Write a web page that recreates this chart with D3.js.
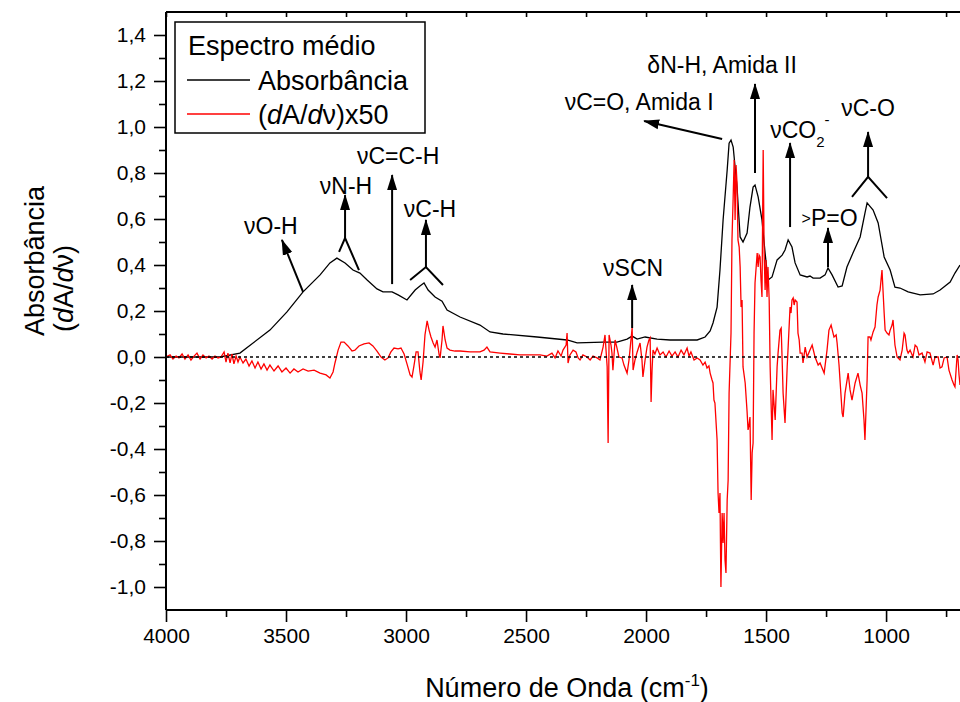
<!DOCTYPE html>
<html>
<head>
<meta charset="utf-8">
<script src="https://cdn.jsdelivr.net/npm/d3@7"></script>
<style>
  body { margin: 0; background: #fff; }
  svg text { font-family: "Liberation Sans", Arial, sans-serif; fill: #000; }
</style>
</head>
<body>
<div id="chart"></div>
<script>
// espectro médio: [número de onda, absorbância]
const absorbance = [
  [4000, 0.0], [3775, 0.0], [3692, 0.017], [3567, 0.117], [3496, 0.196], [3429, 0.283],
  [3358, 0.357], [3317, 0.409], [3288, 0.430], [3254, 0.409], [3221, 0.378], [3192, 0.365],
  [3162, 0.335], [3121, 0.296], [3096, 0.283], [3058, 0.283], [3033, 0.270], [2996, 0.248],
  [2962, 0.291], [2942, 0.309], [2925, 0.322], [2908, 0.291], [2879, 0.261], [2850, 0.243],
  [2829, 0.204], [2775, 0.174], [2692, 0.139], [2650, 0.109], [2596, 0.100], [2454, 0.087],
  [2329, 0.074], [2287, 0.061], [2179, 0.065], [2121, 0.065], [2079, 0.078], [2058, 0.091],
  [2037, 0.078], [2004, 0.087], [1954, 0.078], [1900, 0.074], [1787, 0.074], [1754, 0.087],
  [1733, 0.113], [1721, 0.148], [1704, 0.217], [1692, 0.378], [1679, 0.596], [1662, 0.813],
  [1654, 0.930], [1646, 0.943], [1637, 0.913], [1621, 0.739], [1608, 0.522], [1596, 0.500],
  [1579, 0.539], [1567, 0.652], [1554, 0.739], [1546, 0.748], [1533, 0.696], [1517, 0.596],
  [1504, 0.452], [1492, 0.335], [1475, 0.348], [1454, 0.422], [1433, 0.443], [1421, 0.465],
  [1408, 0.509], [1392, 0.478], [1379, 0.409], [1358, 0.357], [1329, 0.348], [1317, 0.352],
  [1304, 0.343], [1275, 0.343], [1254, 0.357], [1242, 0.387], [1225, 0.357], [1200, 0.304],
  [1183, 0.309], [1163, 0.391], [1138, 0.452], [1108, 0.522], [1088, 0.626], [1079, 0.670],
  [1054, 0.639], [1033, 0.583], [1008, 0.435], [983, 0.378], [963, 0.304], [942, 0.300],
  [908, 0.283], [858, 0.270], [804, 0.274], [775, 0.291], [733, 0.326], [713, 0.365], [692, 0.400]
];

// derivada (dA/dv) x 50
const derivative = [
  [4000, 0], [3983, 0.009], [3971, -0.009], [3958, 0.004], [3946, -0.004], [3933, 0.013],
  [3921, -0.009], [3908, 0.009], [3896, -0.013], [3883, 0.004], [3871, 0.017], [3858, -0.009],
  [3846, 0.009], [3833, -0.004], [3821, 0.004], [3808, -0.009], [3796, 0.004], [3783, -0.004],
  [3771, 0], [3758, 0.022], [3750, -0.022], [3742, 0.017], [3733, -0.026], [3725, 0.013],
  [3717, -0.030], [3708, 0.004], [3700, -0.022], [3692, 0], [3679, -0.026], [3667, -0.009],
  [3654, -0.039], [3642, -0.017], [3629, -0.048], [3617, -0.022], [3604, -0.052], [3592, -0.030],
  [3579, -0.057], [3567, -0.035], [3550, -0.061], [3533, -0.039], [3517, -0.065], [3500, -0.048],
  [3483, -0.070], [3467, -0.052], [3450, -0.065], [3429, -0.052], [3408, -0.061], [3383, -0.057],
  [3358, -0.070], [3333, -0.078], [3317, -0.091], [3304, -0.065], [3296, -0.026], [3283, 0.030],
  [3271, 0.065], [3258, 0.065], [3242, 0.048], [3225, 0.026], [3213, 0.030], [3196, 0.048],
  [3175, 0.057], [3154, 0.061], [3138, 0.048], [3121, 0.026], [3104, 0], [3088, -0.013],
  [3075, -0.004], [3063, 0.022], [3050, 0.039], [3033, 0.035], [3021, 0.039], [3008, 0.013],
  [2996, -0.030], [2983, -0.078], [2975, -0.087], [2967, -0.039], [2958, 0.022], [2950, 0.022],
  [2942, -0.065], [2937, -0.100], [2929, -0.022], [2921, 0.096], [2912, 0.157], [2904, 0.117],
  [2896, 0.087], [2887, 0.061], [2879, 0.043], [2871, 0.074], [2862, 0.009], [2858, -0.004],
  [2850, 0.074], [2846, 0.135], [2837, 0.074], [2829, 0.039], [2817, 0.030], [2796, 0.026],
  [2775, 0.026], [2733, 0.022], [2692, 0.022], [2675, 0.030], [2663, 0.043], [2650, 0.022],
  [2608, 0.017], [2567, 0.013], [2525, 0.009], [2483, 0.009], [2442, 0.009], [2413, 0.004],
  [2392, 0.017], [2379, -0.004], [2367, 0.026], [2354, 0.004], [2346, 0.030], [2333, 0.052],
  [2329, 0.104], [2325, -0.026], [2317, 0.009], [2304, 0.030], [2292, 0.022], [2283, -0.004],
  [2275, -0.013], [2263, 0.009], [2246, 0], [2233, -0.013], [2221, 0.004], [2204, -0.004],
  [2192, -0.013], [2179, 0.043], [2171, 0.096], [2162, -0.043], [2158, -0.374], [2154, 0.096],
  [2146, 0.052], [2142, 0.017], [2138, -0.057], [2129, 0.074], [2121, 0.039], [2113, 0],
  [2100, -0.004], [2092, -0.035], [2079, -0.070], [2071, -0.013], [2067, 0.030], [2058, 0.126],
  [2054, -0.057], [2046, -0.013], [2037, 0.022], [2025, 0.061], [2017, -0.013], [2013, -0.087],
  [2004, -0.013], [1996, 0.043], [1988, 0.074], [1983, 0.083], [1979, -0.196], [1975, -0.057],
  [1971, 0.030], [1963, 0.013], [1954, 0.039], [1942, 0.009], [1929, 0.022], [1917, 0],
  [1904, 0.026], [1892, 0.004], [1879, 0.022], [1867, 0], [1854, 0.030], [1842, 0.009],
  [1829, 0.039], [1821, 0.004], [1813, 0.022], [1800, -0.013], [1787, -0.004], [1775, -0.013],
  [1763, -0.035], [1754, -0.022], [1746, -0.048], [1738, -0.039], [1733, -0.070], [1725, -0.100],
  [1721, -0.113], [1717, -0.187], [1713, -0.200], [1704, -0.361], [1700, -0.591], [1696, -0.678],
  [1692, -0.591], [1690, -0.809], [1688, -1.0], [1683, -0.678], [1679, -0.809], [1675, -0.678],
  [1671, -0.883], [1667, -0.939], [1662, -0.622], [1658, -0.535], [1654, -0.157], [1646, 0.104],
  [1642, 0.509], [1637, 0.696], [1633, 0.857], [1629, 0.596], [1625, 0.835], [1621, 0.757],
  [1617, 0.509], [1612, 0.478], [1608, 0.391], [1604, 0.217], [1600, 0.248], [1596, -0.043],
  [1587, -0.113], [1579, -0.239], [1575, -0.317], [1571, -0.296], [1567, -0.261], [1562, -0.622],
  [1558, -0.417], [1554, -0.374], [1550, 0.104], [1546, 0.322], [1537, 0.452], [1533, 0.391],
  [1529, 0.443], [1525, 0.435], [1521, 0.335], [1517, 0.261], [1512, 0.900], [1508, 0.452],
  [1504, 0.291], [1500, 0.422], [1496, 0.261], [1492, 0.391], [1487, 0.248], [1483, -0.043],
  [1475, -0.361], [1471, -0.143], [1462, -0.274], [1454, -0.043], [1450, 0.017], [1442, 0.117],
  [1437, 0.126], [1433, -0.013], [1429, -0.157], [1421, -0.287], [1412, -0.043], [1408, 0.043],
  [1400, 0.217], [1396, 0.191], [1392, 0.248], [1387, 0.257], [1383, 0.226], [1379, 0.248],
  [1371, 0.239], [1367, 0.104], [1362, 0.074], [1358, 0.017], [1350, 0.017], [1346, -0.026],
  [1337, 0.043], [1329, 0], [1317, 0.030], [1308, 0.052], [1296, 0], [1283, -0.035],
  [1275, -0.026], [1258, -0.070], [1246, 0.030], [1238, 0.117], [1229, 0.139], [1221, 0.104],
  [1217, 0.087], [1208, 0.096], [1204, 0.061], [1196, -0.035], [1183, -0.243], [1179, -0.261],
  [1171, -0.157], [1158, -0.070], [1150, -0.143], [1142, -0.187], [1129, -0.113], [1117, -0.070],
  [1108, -0.122], [1100, -0.157], [1092, -0.274], [1088, -0.361], [1079, -0.100], [1075, 0.087],
  [1067, 0.087], [1063, 0.074], [1054, 0.109], [1046, 0.130], [1038, 0.226], [1033, 0.261],
  [1025, 0.291], [1017, 0.378], [1008, 0.191], [1004, 0.117], [996, 0.104], [988, 0.096],
  [983, 0.117], [975, 0.139], [971, 0.161], [963, 0.052], [954, 0], [942, -0.013],
  [933, 0.030], [925, 0.104], [921, 0.096], [913, 0.030], [908, 0.017], [900, 0.030],
  [888, 0], [879, 0.052], [871, 0.043], [863, 0.009], [850, 0.017], [838, -0.022],
  [829, 0.022], [817, 0.017], [804, -0.035], [796, 0], [783, 0], [775, -0.048],
  [767, -0.043], [758, -0.004], [746, 0], [738, -0.057], [725, -0.100], [717, -0.122],
  [713, -0.130], [704, 0.009], [700, -0.013], [696, -0.078], [692, -0.122]
];

const xMajorTicks = [4000, 3500, 3000, 2500, 2000, 1500, 1000];
const xMinorTicks = [3750, 3250, 2750, 2250, 1750, 1250, 750];
const yMajorTicks = [-1.0, -0.8, -0.6, -0.4, -0.2, 0.0, 0.2, 0.4, 0.6, 0.8, 1.0, 1.2, 1.4];
const yMinorTicks = [-0.9, -0.7, -0.5, -0.3, -0.1, 0.1, 0.3, 0.5, 0.7, 0.9, 1.1, 1.3];

// setas das atribuições: [de], [até] em (cm-1, valor)
const arrows = [
  [[3429, 0.283], [3517, 0.509]],
  [[3254, 0.517], [3254, 0.704]],
  [[3058, 0.317], [3058, 0.791]],
  [[2917, 0.391], [2917, 0.596]],
  [[2058, 0.126], [2058, 0.313]],
  [[1683, 0.948], [2008, 1.026]],
  [[1546, 0.800], [1546, 1.187]],
  [[1400, 0.565], [1400, 0.930]],
  [[1242, 0.391], [1242, 0.561]],
  [[1075, 0.783], [1075, 0.978]]
];
// garfos (banda larga): esquerda, junção, direita
const forks = [
  [[3279, 0.457], [3254, 0.517], [3196, 0.378]],
  [[2983, 0.335], [2917, 0.391], [2846, 0.313]],
  [[1142, 0.696], [1075, 0.783], [996, 0.691]]
];
const labels = [
  { text: "νO-H", at: [3563, 0.570] },
  { text: "νN-H", at: [3250, 0.743] },
  { text: "νC=C-H", at: [3033, 0.874] },
  { text: "νC-H", at: [2900, 0.643] },
  { text: "νSCN", at: [2054, 0.387] },
  { text: "νC=O, Amida I", at: [2029, 1.109] },
  { text: "δN-H, Amida II", at: [1683, 1.270] },
  { text: "νC-O", at: [1075, 1.083] }
];

const width = 960;
const height = 702;
const margin = { top: 12, right: 0, bottom: 92, left: 166 };

const svg = d3.select("#chart")
  .append("svg")
  .attr("width", width)
  .attr("height", height);

const x = d3.scaleLinear().domain([4000, 692]).range([margin.left, width]);
const y = d3.scaleLinear().domain([-1.1, 1.5]).range([height - margin.bottom, margin.top]);

const br = d3.formatLocale({ decimal: ",", thousands: ".", grouping: [3], currency: ["", ""], minus: "-" });
const fmt = br.format(".1f");

svg.append("defs").append("clipPath").attr("id", "plot")
  .append("rect")
  .attr("x", margin.left).attr("y", margin.top)
  .attr("width", width - margin.left).attr("height", height - margin.bottom - margin.top);

svg.select("defs").append("marker")
  .attr("id", "head")
  .attr("viewBox", "0 0 16 12")
  .attr("refX", 15).attr("refY", 6)
  .attr("markerWidth", 16).attr("markerHeight", 12)
  .attr("markerUnits", "userSpaceOnUse")
  .attr("orient", "auto")
  .append("path")
  .attr("d", "M0,1 L16,6 L0,11 Z")
  .attr("fill", "#000");

const line = d3.line().x(d => x(d[0])).y(d => y(d[1]));

const plot = svg.append("g").attr("clip-path", "url(#plot)");

plot.append("path")
  .datum(absorbance)
  .attr("d", line)
  .attr("fill", "none")
  .attr("stroke", "#000")
  .attr("stroke-width", 1.3);

plot.append("path")
  .datum(derivative)
  .attr("d", line)
  .attr("fill", "none")
  .attr("stroke", "#ff0000")
  .attr("stroke-width", 1.3);

// linha do zero pontilhada
plot.append("line")
  .attr("x1", margin.left).attr("x2", width)
  .attr("y1", y(0)).attr("y2", y(0))
  .attr("stroke", "#000")
  .attr("stroke-width", 1.3)
  .attr("stroke-dasharray", "3,3");

// eixos
svg.append("g")
  .attr("transform", `translate(0,${height - margin.bottom})`)
  .call(d3.axisBottom(x).tickValues(xMajorTicks).tickSize(12).tickPadding(6).tickFormat(d3.format("d")));
svg.append("g")
  .attr("transform", `translate(0,${height - margin.bottom})`)
  .call(d3.axisBottom(x).tickValues(xMinorTicks).tickSize(7).tickFormat(""));

svg.append("g")
  .attr("transform", `translate(${margin.left},0)`)
  .call(d3.axisLeft(y).tickValues(yMajorTicks).tickSize(12).tickPadding(8).tickFormat(fmt));
svg.append("g")
  .attr("transform", `translate(${margin.left},0)`)
  .call(d3.axisLeft(y).tickValues(yMinorTicks).tickSize(7).tickFormat(""));

// eixo de cima, sem rótulos
svg.append("g")
  .attr("transform", `translate(0,${margin.top})`)
  .call(d3.axisTop(x).tickValues(xMajorTicks.concat(xMinorTicks)).tickSize(-5).tickFormat(""));

svg.selectAll(".domain").attr("d", null);
svg.selectAll(".tick line").attr("stroke-width", 1.6);
svg.selectAll(".tick text").style("font-size", "21px").attr("fill", "#000");

// molduras
svg.append("line").attr("x1", margin.left).attr("x2", width).attr("y1", y(-1.1)).attr("y2", y(-1.1))
  .attr("stroke", "#000").attr("stroke-width", 2);
svg.append("line").attr("x1", margin.left).attr("x2", margin.left).attr("y1", y(1.5)).attr("y2", y(-1.1))
  .attr("stroke", "#000").attr("stroke-width", 2);
svg.append("line").attr("x1", margin.left).attr("x2", width).attr("y1", y(1.5)).attr("y2", y(1.5))
  .attr("stroke", "#000").attr("stroke-width", 2);

// títulos dos eixos
const xTitle = svg.append("text")
  .attr("x", 567).attr("y", 697)
  .attr("text-anchor", "middle")
  .style("font-size", "27px");
xTitle.append("tspan").text("Número de Onda (cm");
xTitle.append("tspan").attr("dy", -11).style("font-size", "17px").text("-1");
xTitle.append("tspan").attr("dy", 11).text(")");

const yTitle = svg.append("g").attr("transform", "translate(35,336) rotate(-90)");
yTitle.append("text").attr("x", 0).attr("y", 9).style("font-size", "27px").text("Absorbância");
const yt2 = yTitle.append("text").attr("x", 4).attr("y", 38).style("font-size", "27px");
yt2.append("tspan").text("(");
yt2.append("tspan").style("font-style", "italic").text("d");
yt2.append("tspan").text("A/");
yt2.append("tspan").style("font-style", "italic").text("d");
yt2.append("tspan").text("ν)");

// anotações
svg.append("g").selectAll("line")
  .data(arrows)
  .join("line")
  .attr("x1", d => x(d[0][0])).attr("y1", d => y(d[0][1]))
  .attr("x2", d => x(d[1][0])).attr("y2", d => y(d[1][1]))
  .attr("stroke", "#000").attr("stroke-width", 2)
  .attr("marker-end", "url(#head)");

svg.append("g").selectAll("polyline")
  .data(forks)
  .join("polyline")
  .attr("points", d => d.map(p => [x(p[0]), y(p[1])].join(",")).join(" "))
  .attr("fill", "none").attr("stroke", "#000").attr("stroke-width", 2);

svg.append("g").selectAll("text")
  .data(labels)
  .join("text")
  .attr("x", d => x(d.at[0])).attr("y", d => y(d.at[1]))
  .attr("text-anchor", "middle")
  .attr("dominant-baseline", "central")
  .style("font-size", "23px")
  .text(d => d.text);

// vCO2- com subscrito e sobrescrito
const co2 = svg.append("text")
  .attr("x", x(1483)).attr("y", y(0.987))
  .attr("dominant-baseline", "central")
  .style("font-size", "23px");
co2.append("tspan").text("νCO");
co2.append("tspan").attr("dy", 11).style("font-size", "15px").text("2");
co2.append("tspan").attr("dy", -22).style("font-size", "15px").text("-");

const po = svg.append("text")
  .attr("x", x(1352)).attr("y", y(0.604))
  .attr("dominant-baseline", "central")
  .style("font-size", "23px");
po.append("tspan").style("font-size", "16px").text(">");
po.append("tspan").text("P=O");

// legenda
const legend = svg.append("g");
legend.append("rect")
  .attr("x", 175).attr("y", 22).attr("width", 250).attr("height", 111)
  .attr("fill", "#fff").attr("stroke", "#000").attr("stroke-width", 1.5);
legend.append("text").attr("x", 188).attr("y", 55).style("font-size", "27px").text("Espectro médio");

const legendItems = ["Absorbância", "(dA/dν)x50"];
const legendColors = ["#000", "#ff0000"];
legendItems.forEach((name, i) => {
  const ly = 80 + i * 34;
  legend.append("line")
    .attr("x1", 187).attr("x2", 250).attr("y1", ly).attr("y2", ly)
    .attr("stroke", legendColors[i]).attr("stroke-width", 1.3);
  const t = legend.append("text").attr("x", 258).attr("y", ly + 10).style("font-size", "27px");
  if (i === 0) {
    t.text(name);
  } else {
    t.append("tspan").text("(");
    t.append("tspan").style("font-style", "italic").text("d");
    t.append("tspan").text("A/");
    t.append("tspan").style("font-style", "italic").text("d");
    t.append("tspan").text("ν)x50");
  }
});
</script>
</body>
</html>
